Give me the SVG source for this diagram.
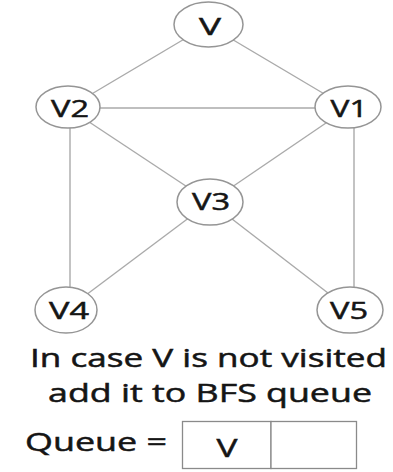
<svg xmlns="http://www.w3.org/2000/svg" width="393" height="472" viewBox="0 0 393 472">
  <style>
    .edge { stroke: #aaaaaa; stroke-width: 1.4; fill: none; }
    .node ellipse { fill: #ffffff; stroke: #959595; stroke-width: 1.5; }
    .node text { font-family: "Open Sans", "Liberation Sans", sans-serif; font-size: 24px; fill: #151515; stroke: #151515; stroke-width: 0.5; text-anchor: middle; }
    .caption { font-family: "Open Sans", "Liberation Sans", sans-serif; font-size: 26px; fill: #151515; stroke: #151515; stroke-width: 0.5; }
    .cell { fill: #ffffff; stroke: #8a8a8a; stroke-width: 1.3; }
  </style>
  <rect width="393" height="472" fill="#ffffff"/>

  <!-- graph edges -->
  <g id="edges">
    <line class="edge" x1="208" y1="25" x2="68" y2="108"/>
    <line class="edge" x1="208" y1="25" x2="348" y2="108"/>
    <line class="edge" x1="68" y1="108" x2="348" y2="108"/>
    <line class="edge" x1="68" y1="108" x2="210" y2="202"/>
    <line class="edge" x1="348" y1="108" x2="210" y2="202"/>
    <line class="edge" x1="70" y1="108" x2="70" y2="310"/>
    <line class="edge" x1="354" y1="108" x2="354" y2="310"/>
    <line class="edge" x1="210" y1="202" x2="66" y2="310"/>
    <line class="edge" x1="210" y1="202" x2="350" y2="310"/>
  </g>

  <!-- vertices -->
  <g id="node-V" class="node">
    <ellipse cx="208.5" cy="24.5" rx="34.5" ry="22.5"/>
    <text x="210" y="35" textLength="22" lengthAdjust="spacingAndGlyphs">V</text>
  </g>
  <g id="node-V2" class="node">
    <ellipse cx="68" cy="107" rx="32" ry="21"/>
    <text x="70" y="117" textLength="38" lengthAdjust="spacingAndGlyphs">V2</text>
  </g>
  <g id="node-V1" class="node">
    <ellipse cx="348" cy="107" rx="33" ry="21"/>
    <text x="349" y="117" textLength="37" lengthAdjust="spacingAndGlyphs">V1</text>
  </g>
  <g id="node-V3" class="node">
    <ellipse cx="210" cy="202" rx="33" ry="23"/>
    <text x="211" y="210" textLength="38" lengthAdjust="spacingAndGlyphs">V3</text>
  </g>
  <g id="node-V4" class="node">
    <ellipse cx="66" cy="310" rx="31" ry="23"/>
    <text x="69" y="319" textLength="40" lengthAdjust="spacingAndGlyphs">V4</text>
  </g>
  <g id="node-V5" class="node">
    <ellipse cx="350" cy="310" rx="33" ry="23"/>
    <text x="349" y="319" textLength="38" lengthAdjust="spacingAndGlyphs">V5</text>
  </g>

  <!-- explanation -->
  <g id="caption">
    <text class="caption" x="30" y="367" textLength="357" lengthAdjust="spacingAndGlyphs">In case V is not visited</text>
    <text class="caption" x="48" y="402" textLength="324" lengthAdjust="spacingAndGlyphs">add it to BFS queue</text>
  </g>

  <!-- queue -->
  <g id="queue">
    <text class="caption" x="25" y="451" textLength="142" lengthAdjust="spacingAndGlyphs">Queue =</text>
    <rect class="cell" x="182.5" y="421.5" width="88.5" height="47"/>
    <rect class="cell" x="271" y="421.5" width="85.5" height="47"/>
    <text class="caption" x="227" y="457" text-anchor="middle" textLength="21" lengthAdjust="spacingAndGlyphs">V</text>
  </g>
</svg>
